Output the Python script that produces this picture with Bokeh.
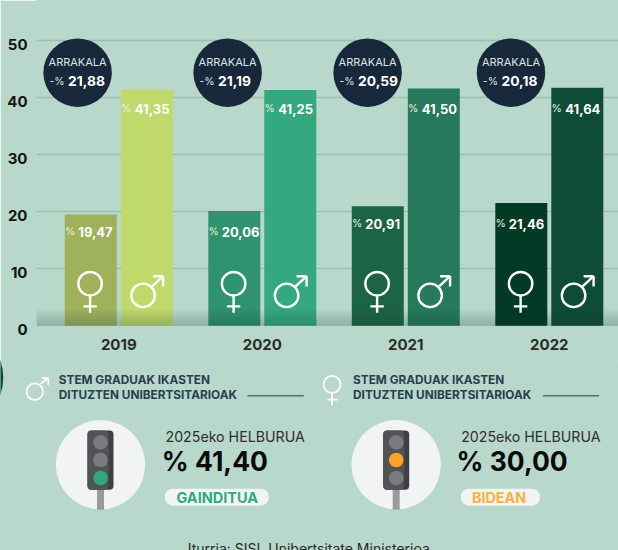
from bokeh.plotting import figure
from bokeh.models import Range1d, LinearAxis, FixedTicker, ColumnDataSource
from bokeh.core.properties import value
from bokeh.embed import file_html
from bokeh.resources import INLINE

years = ["2019", "2020", "2021", "2022"]
women = [19.47, 20.06, 20.91, 21.46]
men = [41.35, 41.25, 41.50, 41.64]
gap = [21.88, 21.19, 20.59, 20.18]
women_txt = ["19,47", "20,06", "20,91", "21,46"]
men_txt = ["41,35", "41,25", "41,50", "41,64"]
gap_txt = ["21,88", "21,19", "20,59", "20,18"]
y_ticks = [0, 10, 20, 30, 40, 50]
gap_word = "ARRAKALA"
panel_title = ["STEM GRADUAK IKASTEN", "DITUZTEN UNIBERTSITARIOAK"]
goal_title = "2025eko HELBURUA"
goal_vals = ["% 41,40", "% 30,00"]
goal_state = ["GAINDITUA", "BIDEAN"]
source_txt = "Iturria: SISI, Unibertsitate Ministerioa"

BG = "#b7d8ca"
FONT = value("Inter")
women_col = ["#9fb25b", "#2f936f", "#1c6446", "#033a25"]
men_col = ["#c0d96b", "#34a980", "#26795a", "#0e4c38"]
NAVY = "#17283a"

# scale of the chart: page pixels per data unit
PX_X, PX_Y = 143.5, 5.714
Y0_PAGE, X0_PAGE = 326.0, 119.0
FRAME_BOTTOM = 336.0
NUDGE_X, NUDGE_Y = 0.7, 0.8  # fine alignment of everything, in pixels
idx = list(range(len(years)))

W, H1, H2 = 618, 360, 190
y_start = (Y0_PAGE - FRAME_BOTTOM - NUDGE_Y) / PX_Y
y_end = (Y0_PAGE - NUDGE_Y) / PX_Y
p = figure(width=W, height=H1, output_backend="svg", toolbar_location=None,
           x_range=Range1d((36 + NUDGE_X - X0_PAGE) / PX_X, (618 + NUDGE_X - X0_PAGE) / PX_X),
           y_range=Range1d(y_start, y_end), y_axis_location=None,
           min_border_left=36, min_border_right=0, min_border_top=0,
           min_border_bottom=int(H1 - FRAME_BOTTOM),
           background_fill_color=BG, border_fill_color=BG,
           outline_line_color=BG, outline_line_width=1.5)
p.xgrid.visible = False
p.ygrid.ticker = FixedTicker(ticks=y_ticks[1:])
p.ygrid.grid_line_color = "#9dbfb1"
p.ygrid.grid_line_width = 1.6

# tick labels sit a few pixels under their grid line in the reference
shift = 4.0 / PX_Y
p.extra_y_ranges = {"lab": Range1d(y_start + shift, y_end + shift)}
ya = LinearAxis(y_range_name="lab", ticker=FixedTicker(ticks=y_ticks), axis_line_color=None,
                major_tick_line_color=None, minor_tick_line_color=None,
                major_tick_in=0, major_tick_out=0, minor_tick_in=0, minor_tick_out=0,
                major_label_text_font="Inter", major_label_text_font_size="15px",
                major_label_text_font_style="bold", major_label_text_color="#141414",
                major_label_standoff=9)
p.add_layout(ya, "left")

xa = p.xaxis[0]
xa.ticker = FixedTicker(ticks=idx)
xa.major_label_overrides = dict(zip(idx, years))
xa.axis_line_color = None
xa.major_tick_line_color = None
xa.minor_tick_line_color = None
xa.major_tick_in = 0
xa.major_tick_out = 0
xa.minor_tick_in = 0
xa.minor_tick_out = 0
xa.major_label_text_font = "Inter"
xa.major_label_text_font_size = "15px"
xa.major_label_text_font_style = "bold"
xa.major_label_text_color = "#2b2b2b"
xa.major_label_standoff = 2

BW = 52 / PX_X
OFF_F, OFF_M = -28.0 / PX_X, 28.0 / PX_X
src = ColumnDataSource(dict(
    xf=[i + OFF_F for i in idx], xm=[i + OFF_M for i in idx],
    women=women, men=men, wc=women_col, mc=men_col))
p.vbar(x="xf", top="women", width=BW, fill_color="wc", line_color=None, source=src)
p.vbar(x="xm", top="men", width=BW, fill_color="mc", line_color=None, source=src)

# soft shadow along the base line
for k in range(8):
    p.quad(left=p.x_range.start, right=p.x_range.end, bottom=0, top=(2 + 2 * k) / PX_Y,
           fill_color="#1f3a30", fill_alpha=0.03, line_color=None)

def txt(fig, x, y, s, size, color, style="normal", align="left", **kw):
    fig.text(x=[x], y=[y], text=[s], text_font=FONT, text_font_size=f"{size}px",
             text_font_style=style, text_color=color, text_align=align,
             text_baseline="middle", **kw)

LY_F = [232, 232, 224, 224]
LY_M = [109, 109, 109, 109]
GAP_X = [77.8, 227.8, 367.8, 511.2]
for i in idx:
    cx = X0_PAGE + i * PX_X
    fx = cx - 54
    mx = cx + 2
    tx = lambda px: (px - X0_PAGE) / PX_X
    ty = lambda py: (Y0_PAGE - py) / PX_Y
    # bar values
    txt(p, tx(fx + 10.5), ty(LY_F[i]), "%", 10.5, "#e8efdc", align="right")
    txt(p, tx(fx + 13.5), ty(LY_F[i]), women_txt[i], 13, "white", "bold")
    txt(p, tx(mx + 10.5), ty(LY_M[i]), "%", 10.5, "#e8efdc", align="right")
    txt(p, tx(mx + 14), ty(LY_M[i]), men_txt[i], 13, "white", "bold")
    # gap bubble
    gx = GAP_X[i]
    p.scatter(x=[tx(gx)], y=[ty(73)], size=68.5, marker="circle", fill_color=NAVY, line_color=None)
    txt(p, tx(gx), ty(62.5), gap_word, 11, "#dfe3e8", align="center")
    txt(p, tx(gx - 13), ty(81.3), "-%", 10.5, "#dfe3e8", align="right")
    txt(p, tx(gx - 9.5), ty(81), gap_txt[i], 13.8, "white", "bold")
    # female icon
    ix = fx + 25.3
    p.scatter(x=[tx(ix)], y=[ty(284)], size=23.5, marker="circle", fill_color=None, line_color="white", line_width=2.4)
    p.segment(x0=[tx(ix), tx(ix - 6.7)], y0=[ty(296), ty(306.7)], x1=[tx(ix), tx(ix + 6.7)], y1=[ty(313), ty(306.7)],
              line_color="white", line_width=2.4)
    # male icon
    jx = mx + 22.3
    p.scatter(x=[tx(jx)], y=[ty(295.7)], size=23.5, marker="circle", fill_color=None, line_color="white", line_width=2.4)
    p.segment(x0=[tx(jx + 9), tx(jx + 10), tx(jx + 20)], y0=[ty(286.7), ty(276.5), ty(276.5)],
              x1=[tx(jx + 20), tx(jx + 20), tx(jx + 20)], y1=[ty(276.5), ty(276.5), ty(286.7)],
              line_color="white", line_width=2.4)

# ---- lower panel: data coordinates are page pixels ----
q = figure(width=W, height=H2, output_backend="svg", toolbar_location=None,
           x_range=Range1d(NUDGE_X, W + NUDGE_X),
           y_range=Range1d(360 + H2 + NUDGE_Y, 360 + NUDGE_Y),
           x_axis_location=None, y_axis_location=None,
           min_border_left=0, min_border_right=0, min_border_top=0, min_border_bottom=0,
           background_fill_color=BG, border_fill_color=BG,
           outline_line_color=BG, outline_line_width=1)
q.grid.visible = False

def pill(x0, x1, y0, y1, r, color):
    q.quad(left=[x0], right=[x1], top=[y0], bottom=[y1], fill_color=color, line_color=None, border_radius=r)

def traffic(c, lit, lit_col):
    q.scatter(x=[c], y=[465], size=89.4, marker="circle", fill_color="#f1f3f5", line_color=None)
    q.quad(left=[c - 3.5], right=[c + 3.5], top=[488], bottom=[510], fill_color="#999a9a", line_color=None)
    pill(c - 13, c + 13, 430.7, 490, 4, "#3f4042")
    pill(c - 13, c + 8, 430.7, 490, 4, "#525355")
    for k, y in enumerate([442.7, 460.3, 478.3]):
        q.scatter(x=[c], y=[y], size=14.6, marker="circle",
                  fill_color=lit_col if k == lit else "#7b7a80", line_color=None)

# edge of a dark disc cut off by the left side of the page
q.scatter(x=[-49.5], y=[378], size=106, marker="circle", fill_color="#0e4c38", line_color=None)

for n, dx in enumerate([0, 295.7]):
    tx0 = 59 + dx - (0 if n == 0 else 1.4)
    for y, s in zip([380.7, 395], panel_title):
        txt(q, tx0, y, s, 11.8, "#2a3e50", "bold")
    q.segment(x0=[247.7 + dx - (0.4 if n else 0)], x1=[304 + dx - (0.4 if n else 0)], y0=[396], y1=[396],
              line_color="#55707c", line_width=1.5)
    traffic(100.7 + dx, 2 if n == 0 else 1, "#2fa77f" if n == 0 else "#f9a32b")
    txt(q, 165.7 + dx, 436.3, goal_title, 14.2, "#2f2f2f", "normal")
    txt(q, 162 + dx - (0 if n == 0 else 1), 461.7, goal_vals[n], 26.5, "#0a0a0a", "bold")

pill(165, 269, 489, 506, 8, "#f1f3f5")
txt(q, 217.5, 497.5, goal_state[0], 14.5, "#34a980", "bold", align="center")
pill(461, 540, 489, 506, 8, "#f1f3f5")
txt(q, 499.3, 497.5, goal_state[1], 14.3, "#fbb040", "bold", align="center")

# male legend icon
q.scatter(x=[35], y=[392], size=16.5, marker="circle", fill_color=None, line_color="white", line_width=1.8)
q.segment(x0=[41, 42, 48.5], y0=[384, 378.5, 378.5], x1=[48.5, 48.5, 48.5], y1=[378.5, 378.5, 385],
          line_color="white", line_width=1.8)
# female legend icon
q.scatter(x=[332.3], y=[384.7], size=17, marker="circle", fill_color=None, line_color="white", line_width=1.8)
q.segment(x0=[332.3, 327.7], y0=[394, 400], x1=[332.3, 337.7], y1=[405.7, 400],
          line_color="white", line_width=1.8)

txt(q, 309, 548.5, source_txt, 14, "#2b2b2b", align="center")

html = file_html([p, q], INLINE)
html = html.replace("<body>", f'<body style="background:{BG}">', 1)
open("out.html", "w").write(html)
